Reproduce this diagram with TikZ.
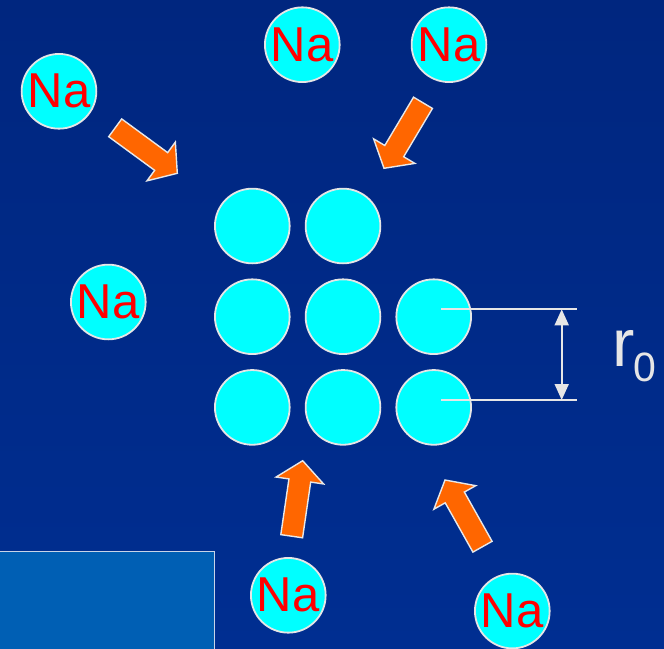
\documentclass[tikz,border=0pt]{standalone}
\usepackage{fontspec}
\setmainfont{Liberation Sans}
\usetikzlibrary{calc,arrows.meta}

\definecolor{bgtop}{HTML}{00267F}
\definecolor{bgbottom}{HTML}{002E91}
\definecolor{boxblue}{HTML}{005FB4}
\definecolor{boxrim}{HTML}{C8D4E8}
\definecolor{ioncyan}{HTML}{00FFFF}
\definecolor{ionrim}{HTML}{E6E6E6}
\definecolor{nared}{HTML}{FF0000}
\definecolor{arroworange}{HTML}{FF6600}
\definecolor{arrowrim}{HTML}{E8E8E8}
\definecolor{dimgray}{HTML}{E6E6E6}

% block arrow from a tail coordinate to a tip coordinate
\newcommand\blockarrow[2]{%
  \coordinate (#1-base) at ($(#2)!20pt!(#1)$);
  \draw[fatarrow]
    ($(#1)!11pt!90:(#2)$) -- ($(#1-base)!11pt!90:(#2)$) --
    ($(#1-base)!24pt!90:(#2)$) -- (#2) --
    ($(#1-base)!24pt!-90:(#2)$) -- ($(#1-base)!11pt!-90:(#2)$) --
    ($(#1)!11pt!-90:(#2)$) -- cycle;}

\begin{document}
\begin{tikzpicture}[x=1pt,y=-1pt,
  ion/.style={circle, draw=ionrim, line width=1.8pt, fill=ioncyan,
              minimum size=74.7pt, inner sep=0pt},
  naion/.style={ion, text=nared, font=\fontsize{49}{49}\selectfont},
  fatarrow/.style={fill=arroworange, draw=arrowrim, line width=1.4pt,
                   line join=miter},
  dimline/.style={draw=dimgray, line width=1.8pt},
  dimarrow/.style={dimline,
    {Triangle[width=14pt,length=16pt]}-{Triangle[width=14pt,length=16pt]}}]

\useasboundingbox (0,0) rectangle (664,648);
\shade[top color=bgtop, bottom color=bgbottom] (0,0) rectangle (664,648);

% lighter panel in the lower left corner
\fill[boxblue] (-5,551.7) rectangle (214.3,655);
\draw[boxrim, line width=1.5pt] (-5,551.7) -- (214.3,551.7) -- (214.3,655);

% sodium atoms around the cluster
\node[naion] (na1) at (59,91.3)    {Na};
\node[naion] (na2) at (302.3,44.7) {Na};
\node[naion] (na3) at (449,44.7)   {Na};
\node[naion] (na4) at (108.3,302)  {Na};
\node[naion] (na5) at (288.3,595.3){Na};
\node[naion] (na6) at (512.3,611)  {Na};

% cluster of ions
\node[ion] (g11) at (252.3,226)   {};
\node[ion] (g12) at (343,226)     {};
\node[ion] (g21) at (252.3,316.7) {};
\node[ion] (g22) at (343,316.7)   {};
\node[ion] (g23) at (433.7,316.7) {};
\node[ion] (g31) at (252.3,407.4) {};
\node[ion] (g32) at (343,407.4)   {};
\node[ion] (g33) at (433.7,407.4) {};

% arrows pointing at the cluster
\coordinate (a1) at (115.2,127.8); \coordinate (a1h) at (177.3,173.3);
\coordinate (a2) at (423,102.8);   \coordinate (a2h) at (384,168.3);
\coordinate (a3) at (291.7,536.2); \coordinate (a3h) at (302.7,460.7);
\coordinate (a4) at (482.5,546.7); \coordinate (a4h) at (445,480);
\blockarrow{a1}{a1h}
\blockarrow{a2}{a2h}
\blockarrow{a3}{a3h}
\blockarrow{a4}{a4h}

% spacing dimension
\coordinate (d1s) at (441.3,309.3); \coordinate (d1e) at (577.3,309.3);
\coordinate (d2s) at (441.3,400);   \coordinate (d2e) at (577.3,400);
\coordinate (dt) at (561.7,309.3);  \coordinate (db) at (561.7,400);
\draw[dimline] (d1s) -- (d1e);
\draw[dimline] (d2s) -- (d2e);
\draw[dimarrow] (dt) -- (db);
\node[anchor=base west, inner sep=0pt, text=dimgray] (r0) at (612.3,366)
  {\fontsize{67}{67}\selectfont r\kern-1.5pt\raisebox{-15pt}{\fontsize{41}{41}\selectfont 0}};
\end{tikzpicture}
\end{document}
